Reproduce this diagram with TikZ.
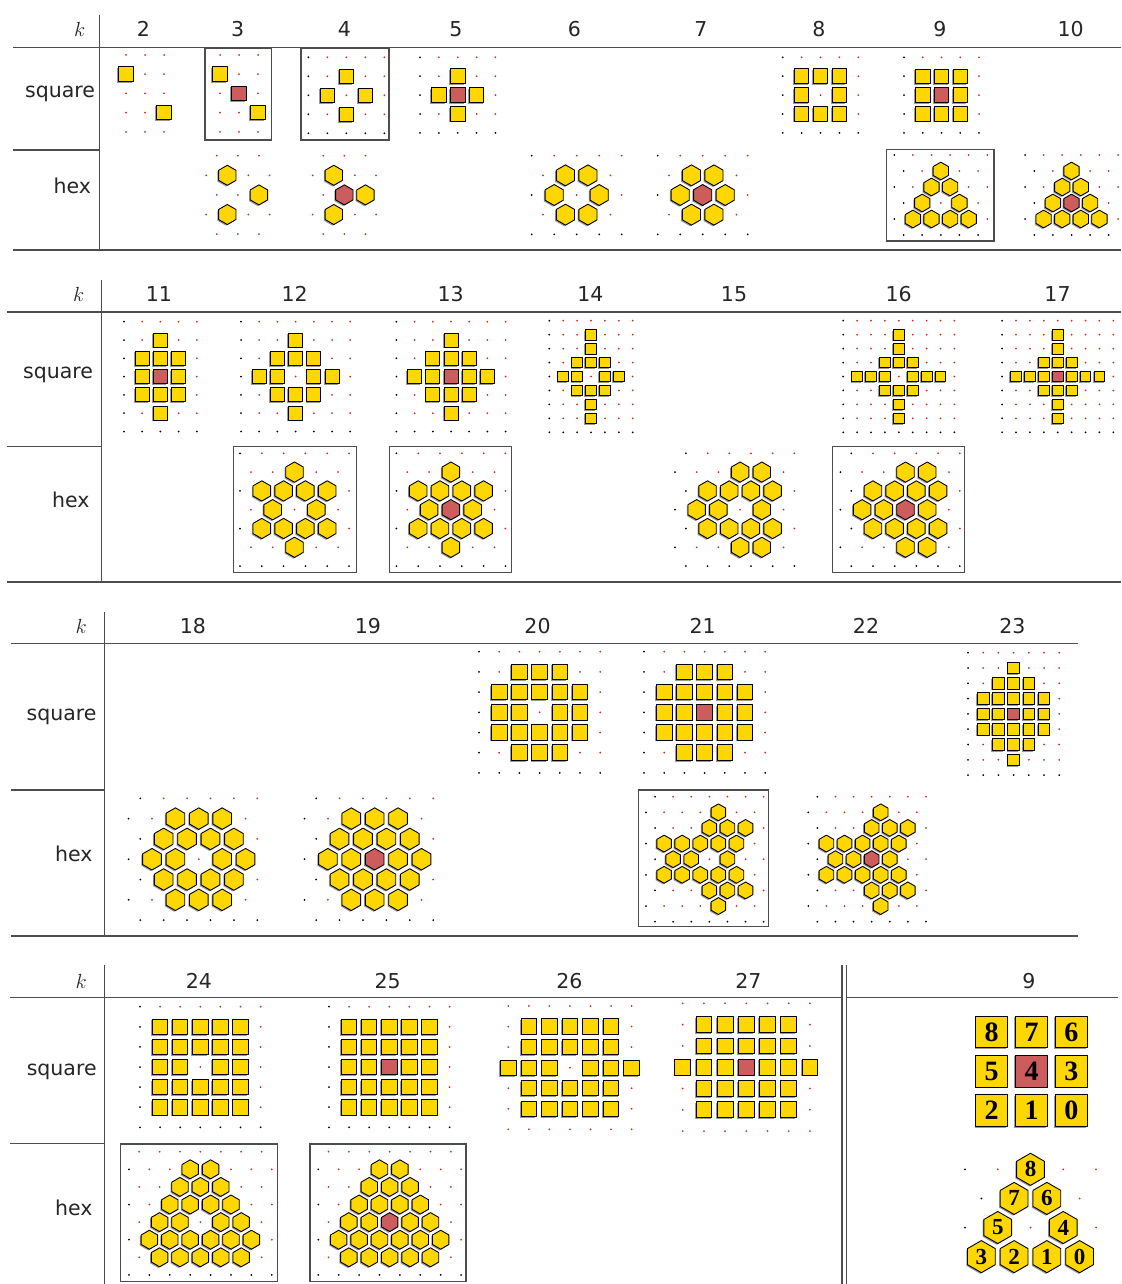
\RequirePackage{fix-cm}
\documentclass[tikz,border=0pt]{standalone}
\usepackage{fontspec}
\setmainfont{DejaVu Sans}
\newfontfamily\numfont{Liberation Serif}

\definecolor{cellyellow}{HTML}{FFD700}
\definecolor{cellred}{HTML}{CD5C5C}
\definecolor{dotred}{HTML}{D62728}
\definecolor{rulegray}{HTML}{4D4D4D}

\tikzset{
  rule/.style={draw=rulegray, line width=1.3pt},
  framebox/.style={draw=rulegray, line width=1.2pt},
  yellowcell/.style={fill=cellyellow, draw=black, line width=0.9pt, line join=round},
  redcell/.style={fill=cellred, draw=black, line width=0.9pt, line join=round},
  cellshadow/.style={fill=black!40},
  lbl/.style={font=\fontsize{20.5}{24}\selectfont, text=black!85, anchor=base, inner sep=0pt},
  numlabel/.style={font=\numfont\bfseries\patnum, text=black, inner sep=0pt}
}

\newcommand\patnum{\fontsize{27}{27}\selectfont}

% one pattern: rows of cells, r/b = red/black dot, o = yellow, x = red,
% > = half step, a digit = yellow cell with that number
\makeatletter
\def\pat@sq{sq}
\def\pat@shift{>}\def\pat@red{r}\def\pat@black{b}\def\pat@yel{o}\def\pat@ctr{x}
\newcommand\pat@shape[1]{%
  \ifx\pat@kind\pat@sq
    \fill[cellshadow] (\pat@x-\pat@a-1.2,\pat@y-\pat@a+1.2) rectangle ++(2*\pat@a,2*\pat@a);
    \path[#1] (\pat@x-\pat@a,\pat@y-\pat@a) rectangle ++(2*\pat@a,2*\pat@a);
  \else
    \fill[cellshadow,xshift=-1.2pt,yshift=-1.2pt] (\pat@x,\pat@y-\pat@a) -- (\pat@x+0.866*\pat@a,\pat@y-0.5*\pat@a) -- (\pat@x+0.866*\pat@a,\pat@y+0.5*\pat@a) -- (\pat@x,\pat@y+\pat@a) -- (\pat@x-0.866*\pat@a,\pat@y+0.5*\pat@a) -- (\pat@x-0.866*\pat@a,\pat@y-0.5*\pat@a) -- cycle;
    \path[#1] (\pat@x,\pat@y-\pat@a) -- (\pat@x+0.866*\pat@a,\pat@y-0.5*\pat@a) -- (\pat@x+0.866*\pat@a,\pat@y+0.5*\pat@a) -- (\pat@x,\pat@y+\pat@a) -- (\pat@x-0.866*\pat@a,\pat@y+0.5*\pat@a) -- (\pat@x-0.866*\pat@a,\pat@y-0.5*\pat@a) -- cycle;
  \fi}
\def\pat@cell{%
  \ifx\pat@c\pat@shift
    \pgfmathsetmacro\pat@x{\pat@x+0.5*\pat@step}%
  \else
    \ifx\pat@c\pat@red
      \fill[dotred] (\pat@x,\pat@y) circle[radius=1pt];%
    \else\ifx\pat@c\pat@black
      \fill[black] (\pat@x,\pat@y) circle[radius=1pt];%
    \else\ifx\pat@c\pat@yel
      \pat@shape{yellowcell}%
    \else\ifx\pat@c\pat@ctr
      \pat@shape{redcell}%
    \else
      \pat@shape{yellowcell}%
      \node[numlabel] (\pat@kind-\pat@c) at (\pat@x,\pat@y) {\pat@c};%
    \fi\fi\fi\fi
    \pgfmathsetmacro\pat@x{\pat@x+\pat@step}%
  \fi}
\def\pat@run#1{\@tfor\pat@c:=#1\do{\pat@cell}}
% #1 sq|hex, #2,#3 first lattice point, #4 step, #5 row step, #6 size, #7 rows
\newcommand\drawpattern[7]{%
  \def\pat@kind{#1}\def\pat@step{#4}%
  \pgfmathsetmacro\pat@a{#6*#4}%
  \foreach \patrow [count=\pat@j from 0] in {#7}{%
    \pgfmathsetmacro\pat@y{#3+\pat@j*#5}%
    \pgfmathsetmacro\pat@x{#2}%
    \expandafter\pat@run\expandafter{\patrow}%
  }}
\makeatother

\begin{document}
\begin{tikzpicture}[x=1pt,y=-1pt]
  \path[fill=white,use as bounding box] (0,0) rectangle (1121,1284);

  % Table 1: k = 2..10
  \draw[rule] (13,47.3) -- (1121,47.3);
  \draw[rule] (99.3,15) -- (99.3,250);
  \draw[rule] (13,150) -- (99.3,150);
  \draw[rule] (13,250) -- (1121,250);
  \node[lbl] (k1) at (79.7,36.7) {$k$};
  \foreach \lab/\xx in {2/143.5,3/237.7,4/344.5,5/456,6/574.3,7/701,8/819,9/940,10/1070.7}
    \node[lbl] (h1-\lab) at (\xx,36.7) {\lab};
  \node[lbl] (sq1) at (60,97.5) {square};
  \node[lbl] (hx1) at (72.3,193.8) {hex};

  \draw[framebox] (205,48.3) rectangle (271.7,140);
  \draw[framebox] (301,48.3) rectangle (389,140);
  \draw[framebox] (886.7,149.3) rectangle (994,241);

  \drawpattern{sq}{126}{55}{19}{19.2}{0.385}{rrr,orr,rrr,rro,rrr}
  \drawpattern{sq}{220}{55}{19}{19.2}{0.385}{rrr,orr,rxr,rro,rrr}
  \drawpattern{sq}{308.3}{57.3}{19}{19}{0.385}{brrrr,brorr,boror,brorr,bbbbb}
  \drawpattern{sq}{420}{57.3}{18.85}{18.9}{0.385}{brrrr,brorr,boxor,brorr,bbbbb}
  \drawpattern{sq}{782.7}{57.3}{18.9}{18.9}{0.385}{brrrr,booor,boror,booor,bbbbb}
  \drawpattern{sq}{904}{57.3}{18.75}{18.9}{0.385}{brrrr,booor,boxor,booor,bbbbb}

  \drawpattern{hex}{206.2}{155.7}{21.1}{19.6}{0.475}{>rrr,rorr,>rro,rorr,>rrr}
  \drawpattern{hex}{312.7}{155.7}{21.1}{19.6}{0.475}{>rrr,rorr,>rxo,rorr,>rrr}
  \drawpattern{hex}{531.7}{155.7}{22.5}{19.65}{0.465}{brrrr,>roor,boror,>roor,bbbbb}
  \drawpattern{hex}{657.7}{155.7}{22.5}{19.65}{0.465}{brrrr,>roor,boxor,>roor,bbbbb}
  \drawpattern{hex}{894.3}{155}{18.6}{16}{0.475}{brrrrr,>brorr,broorr,>boror,boooor,>bbbbb}
  \drawpattern{hex}{1025}{155}{18.6}{16}{0.475}{brrrrr,>brorr,broorr,>boxor,boooor,>bbbbb}

  % Table 2: k = 11..17
  \draw[rule] (7,312) -- (1121,312);
  \draw[rule] (101.7,280) -- (101.7,582);
  \draw[rule] (7,446.7) -- (101.7,446.7);
  \draw[rule] (7,582) -- (1121,582);
  \node[lbl] (k2) at (78.8,301.7) {$k$};
  \foreach \lab/\xx in {11/159,12/294.6,13/450.7,14/590.4,15/734,16/898.6,17/1057.5}
    \node[lbl] (h2-\lab) at (\xx,301.7) {\lab};
  \node[lbl] (sq2) at (58,378.2) {square};
  \node[lbl] (hx2) at (70.7,507.6) {hex};

  \draw[framebox] (233.2,446.7) rectangle (356.4,572.7);
  \draw[framebox] (389.3,446.7) rectangle (511.8,572.7);
  \draw[framebox] (832.1,446.7) rectangle (964.6,572.7);

  \drawpattern{sq}{124}{321.7}{18.2}{18.3}{0.385}{brrrr,brorr,booor,boxor,booor,brorr,bbbbb}
  \drawpattern{sq}{241}{321.7}{18.2}{18.3}{0.385}{brrrrrr,brrorrr,brooorr,booroor,brooorr,brrorrr,bbbbbbb}
  \drawpattern{sq}{396.4}{321.7}{18.2}{18.3}{0.385}{brrrrrr,brrorrr,brooorr,booxoor,brooorr,brrorrr,bbbbbbb}
  \drawpattern{sq}{549.3}{320.7}{13.9}{13.95}{0.385}{brrrrrr,brrorrr,brrorrr,brooorr,booroor,brooorr,brrorrr,brrorrr,bbbbbbb}
  \drawpattern{sq}{843.2}{320.7}{13.9}{13.95}{0.385}{brrrrrrrr,brrrorrrr,brrrorrrr,brrooorrr,booorooor,brrooorrr,brrrorrrr,brrrorrrr,bbbbbbbbb}
  \drawpattern{sq}{1002.1}{320.7}{13.9}{13.95}{0.385}{brrrrrrrr,brrrorrrr,brrrorrrr,brrooorrr,boooxooor,brrooorrr,brrrorrrr,brrrorrrr,bbbbbbbbb}

  \drawpattern{hex}{240}{453.3}{21.8}{18.8}{0.465}{brrrrr,>rrorr,boooor,>roror,boooor,>rrorr,bbbbbb}
  \drawpattern{hex}{396.4}{453.3}{21.8}{18.8}{0.465}{brrrrr,>rrorr,boooor,>roxor,boooor,>rrorr,bbbbbb}
  \drawpattern{hex}{675}{453.3}{21.7}{18.8}{0.465}{>brrrrr,brroor,>boooor,booror,>boooor,brroor,>bbbbbb}
  \drawpattern{hex}{840.4}{453.3}{21.7}{18.8}{0.465}{>brrrrr,brroor,>boooor,booxor,>boooor,brroor,>bbbbbb}

  % Table 3: k = 18..23
  \draw[rule] (10.7,643.3) -- (1078,643.3);
  \draw[rule] (104.5,611.7) -- (104.5,936);
  \draw[rule] (10.7,790) -- (104.5,790);
  \draw[rule] (10.7,936) -- (1078,936);
  \node[lbl] (k3) at (81.3,633.3) {$k$};
  \foreach \lab/\xx in {18/192.9,19/367.9,20/537.5,21/702.7,22/866,23/1012.3}
    \node[lbl] (h3-\lab) at (\xx,633.3) {\lab};
  \node[lbl] (sq3) at (61.6,720) {square};
  \node[lbl] (hx3) at (73.8,861.6) {hex};

  \draw[framebox] (638.3,790) rectangle (768.3,926.7);

  \drawpattern{sq}{479}{651.7}{20.2}{20.2}{0.385}{brrrrrr,brooorr,booooor,booroor,booooor,brooorr,bbbbbbb}
  \drawpattern{sq}{644}{651.7}{20.2}{20.2}{0.385}{brrrrrr,brooorr,booooor,booxoor,booooor,brooorr,bbbbbbb}
  \drawpattern{sq}{968}{652.7}{15.2}{15.3}{0.385}{brrrrrr,brrorrr,brooorr,booooor,booxoor,booooor,brooorr,brrorrr,bbbbbbb}

  \drawpattern{hex}{128.6}{798.3}{23.4}{20.3}{0.46}{>brrrrr,brooor,>boooor,booroo,>boooor,brooor,>bbbbbb}
  \drawpattern{hex}{304.5}{798.3}{23.4}{20.3}{0.46}{>brrrrr,brooor,>boooor,booxoo,>boooor,brooor,>bbbbbb}
  \drawpattern{hex}{646}{796.7}{18.1}{15.62}{0.465}{>brrrrrr,brrrorr,>brrooor,booooor,>boororr,booooor,>brrooor,brrrorr,>bbbbbbb}
  \drawpattern{hex}{808.3}{796.7}{18.1}{15.62}{0.465}{>brrrrrr,brrrorr,>brrooor,booooor,>booxorr,booooor,>brrooor,brrrorr,>bbbbbbb}

  % Table 4: k = 24..27 and the numbered k = 9
  \draw[rule] (10,997.7) -- (842,997.7);
  \draw[rule] (846.5,997.7) -- (1118,997.7);
  \draw[rule] (104.3,965) -- (104.3,1284);
  \draw[rule] (10,1143.3) -- (104.3,1143.3);
  \draw[rule] (842,965) -- (842,1284);
  \draw[rule] (846.5,965) -- (846.5,1284);
  \node[lbl] (k4) at (81.2,988.3) {$k$};
  \foreach \lab/\xx in {24/199,25/387.7,26/569.3,27/748.3}
    \node[lbl] (h4-\lab) at (\xx,988.3) {\lab};
  \node[lbl] (h4-9) at (1029,988.3) {9};
  \node[lbl] (sq4) at (61.7,1075) {square};
  \node[lbl] (hx4) at (73.8,1215.6) {hex};

  \draw[framebox] (120.7,1144) rectangle (277.3,1281.7);
  \draw[framebox] (310,1144) rectangle (466,1281.7);

  \drawpattern{sq}{140}{1006.7}{20.1}{20.1}{0.385}{brrrrrr,booooor,booooor,booroor,booooor,booooor,bbbbbbb}
  \drawpattern{sq}{329}{1006.7}{20.1}{20.1}{0.385}{brrrrrr,booooor,booooor,booxoor,booooor,booooor,bbbbbbb}
  \drawpattern{sq}{508.3}{1006}{20.55}{20.55}{0.375}{rrrrrrr,rooooor,rooooor,ooorooo,rooooor,rooooor,rrrrrrr}
  \drawpattern{sq}{682.7}{1003.3}{21.2}{21.3}{0.375}{rrrrrrr,rooooor,rooooor,oooxooo,rooooor,rooooor,rrrrrrr}

  \drawpattern{hex}{129}{1151.7}{20.4}{17.6}{0.465}{>rrrrrrr,brroorrr,>rrooorr,broooorr,>rooroor,boooooor,>rooooor,bbbbbbbb}
  \drawpattern{hex}{318.3}{1151.7}{20.4}{17.6}{0.465}{>rrrrrrr,brroorrr,>rrooorr,broooorr,>rooxoor,boooooor,>rooooor,bbbbbbbb}

  % numbered cells
  \renewcommand\patnum{\fontsize{28}{28}\selectfont}
  \drawpattern{sq}{991.7}{1032}{39.8}{39.2}{0.4}{876,5x3,210}
  \node[numlabel] (sq-4) at (1031.5,1071.2) {4};
  \renewcommand\patnum{\fontsize{23}{23}\selectfont}
  \drawpattern{hex}{965}{1169.3}{32.75}{29.1}{0.49}{br8rr,>b76r,b5r4r,>3210}
\end{tikzpicture}
\end{document}
